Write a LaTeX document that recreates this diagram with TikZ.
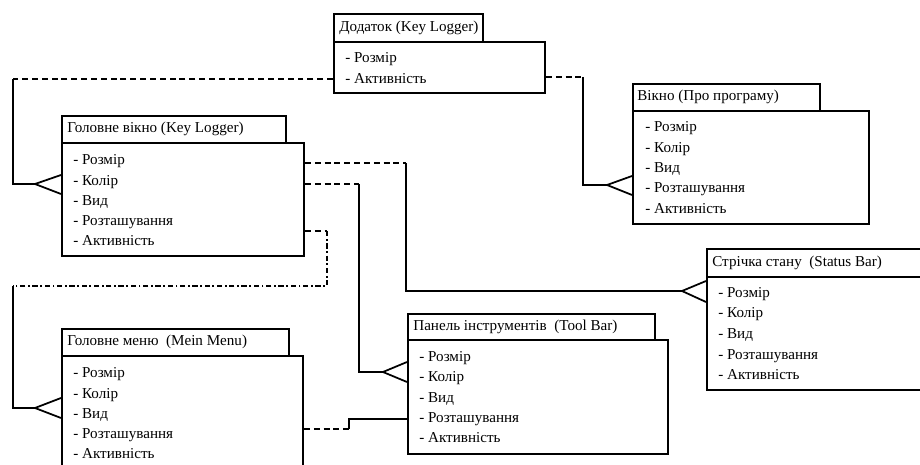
\documentclass[tikz,border=0pt]{standalone}
\usepackage{fontspec}
\setmainfont{Liberation Serif}
\usetikzlibrary{calc}
\begin{document}
\begin{tikzpicture}[x=0.02cm,y=-0.02cm,
  tbox/.style 2 args={draw, line width=1.1pt, anchor=north west, inner sep=0pt,
    minimum width=#1*0.02cm, minimum height=#2*0.02cm},
  txt/.style={anchor=west, inner sep=0pt, text height=7pt, text depth=2pt,
    font=\fontsize{8.6}{10}\selectfont, text=black},
  conn/.style={line width=1pt, line join=miter},
  dashln/.style={line width=1pt, dash pattern=on 3.4pt off 2.2pt},
  dashdot/.style={line width=1pt, dash pattern=on 3pt off 1.5pt on 1pt off 1.5pt},
]
\useasboundingbox (0,0) rectangle (920,465);
\fill[white] (0,0) rectangle (920,465);
\clip (0,0) rectangle (920,465);

% Додаток (Key Logger)
\node[tbox={149}{28}] (dtT) at (333,13) {};
\node[tbox={211}{51}] (dt) at (333,41) {};
\node[txt] (dtH) at (339,27) {Додаток (Key Logger)};
\node[txt] (dt1) at (345,58) {- Розмір};
\node[txt] (dt2) at (345,79) {- Активність};

% Головне вікно (Key Logger)
\node[tbox={224}{27}] (gvT) at (61,115) {};
\node[tbox={242}{113}] (gv) at (61,142) {};
\node[txt] (gvH) at (67,128) {Головне вікно (Key Logger)};
\node[txt] (gv1) at (73,160) {- Розмір};
\node[txt] (gv2) at (73,181) {- Колір};
\node[txt] (gv3) at (73,201) {- Вид};
\node[txt] (gv4) at (73,221) {- Розташування};
\node[txt] (gv5) at (73,241) {- Активність};

% Вікно (Про програму)
\node[tbox={187}{27}] (vkT) at (632,83) {};
\node[tbox={236}{113}] (vk) at (632,110) {};
\node[txt] (vkH) at (637,96) {Вікно (Про програму)};
\node[txt] (vk1) at (645,127) {- Розмір};
\node[txt] (vk2) at (645,148) {- Колір};
\node[txt] (vk3) at (645,168) {- Вид};
\node[txt] (vk4) at (645,188) {- Розташування};
\node[txt] (vk5) at (645,209) {- Активність};

% Стрічка стану (Status Bar)
\node[tbox={224}{28}] (sbT) at (706,248) {};
\node[tbox={224}{113}] (sb) at (706,276) {};
\node[txt] (sbH) at (712,262) {Стрічка стану~ (Status Bar)};
\node[txt] (sb1) at (718,293) {- Розмір};
\node[txt] (sb2) at (718,313) {- Колір};
\node[txt] (sb3) at (718,334) {- Вид};
\node[txt] (sb4) at (718,355) {- Розташування};
\node[txt] (sb5) at (718,375) {- Активність};

% Панель інструментів (Tool Bar)
\node[tbox={247}{26}] (tbT) at (407,313) {};
\node[tbox={260}{114}] (tb) at (407,339) {};
\node[txt] (tbH) at (413,326) {Панель інструментів~ (Tool Bar)};
\node[txt] (tb1) at (419,357) {- Розмір};
\node[txt] (tb2) at (419,377) {- Колір};
\node[txt] (tb3) at (419,398) {- Вид};
\node[txt] (tb4) at (419,418) {- Розташування};
\node[txt] (tb5) at (419,438) {- Активність};

% Головне меню (Mein Menu)
\node[tbox={227}{27}] (mmT) at (61,328) {};
\node[tbox={241}{125}] (mm) at (61,355) {};
\node[txt] (mmH) at (67,341) {Головне меню~ (Mein Menu)};
\node[txt] (mm1) at (73,373) {- Розмір};
\node[txt] (mm2) at (73,394) {- Колір};
\node[txt] (mm3) at (73,414) {- Вид};
\node[txt] (mm4) at (73,434) {- Розташування};
\node[txt] (mm5) at (73,454) {- Активність};

% helper coordinates
\coordinate (cA1) at (13,79);
\coordinate (cA2) at (35,184);
\coordinate (cB1) at (583,77);
\coordinate (cB2) at (607,185);
\coordinate (cC1) at (406,163);
\coordinate (cC2) at (682,291);
\coordinate (cD1) at (359,184);
\coordinate (cD2) at (383,372);
\coordinate (cE1) at (327,231);
\coordinate (cE2) at (327,286);
\coordinate (cE3) at (13,286);
\coordinate (cE4) at (35,408);
\coordinate (cF1) at (349,429);
\coordinate (cF2) at (349,419);

% A: Додаток -> Головне вікно
\draw[dashln] (dt.west |- cA1) -- (cA1);
\draw[conn] (cA1) |- (cA2);
\draw[conn] (gv.west |- 0,175) -- (cA2) -- (gv.west |- 0,194);

% B: Додаток -> Вікно
\draw[dashln] (dt.east |- cB1) -- (cB1);
\draw[conn] (cB1) |- (cB2);
\draw[conn] (vk.west |- 0,176) -- (cB2) -- (vk.west |- 0,195);

% C: Головне вікно -> Стрічка стану
\draw[dashln] (gv.east |- cC1) -- (cC1);
\draw[conn] (cC1) |- (cC2);
\draw[conn] (sb.west |- 0,281) -- (cC2) -- (sb.west |- 0,302);

% D: Головне вікно -> Панель інструментів
\draw[dashln] (gv.east |- cD1) -- (cD1);
\draw[conn] (cD1) |- (cD2);
\draw[conn] (tb.west |- 0,362) -- (cD2) -- (tb.west |- 0,382);

% E: Головне вікно -> Головне меню
\draw[dashln] (gv.east |- cE1) -- (cE1);
\draw[dashdot] (cE1) -- (cE2) -- (cE3);
\draw[conn] (cE3) |- (cE4);
\draw[conn] (mm.west |- 0,398) -- (cE4) -- (mm.west |- 0,418);

% F: Головне меню -> Панель інструментів
\draw[dashln] (mm.east |- cF1) -- (cF1);
\draw[conn] (cF1) -- (cF2) -- (tb.west |- cF2);
\end{tikzpicture}
\end{document}
